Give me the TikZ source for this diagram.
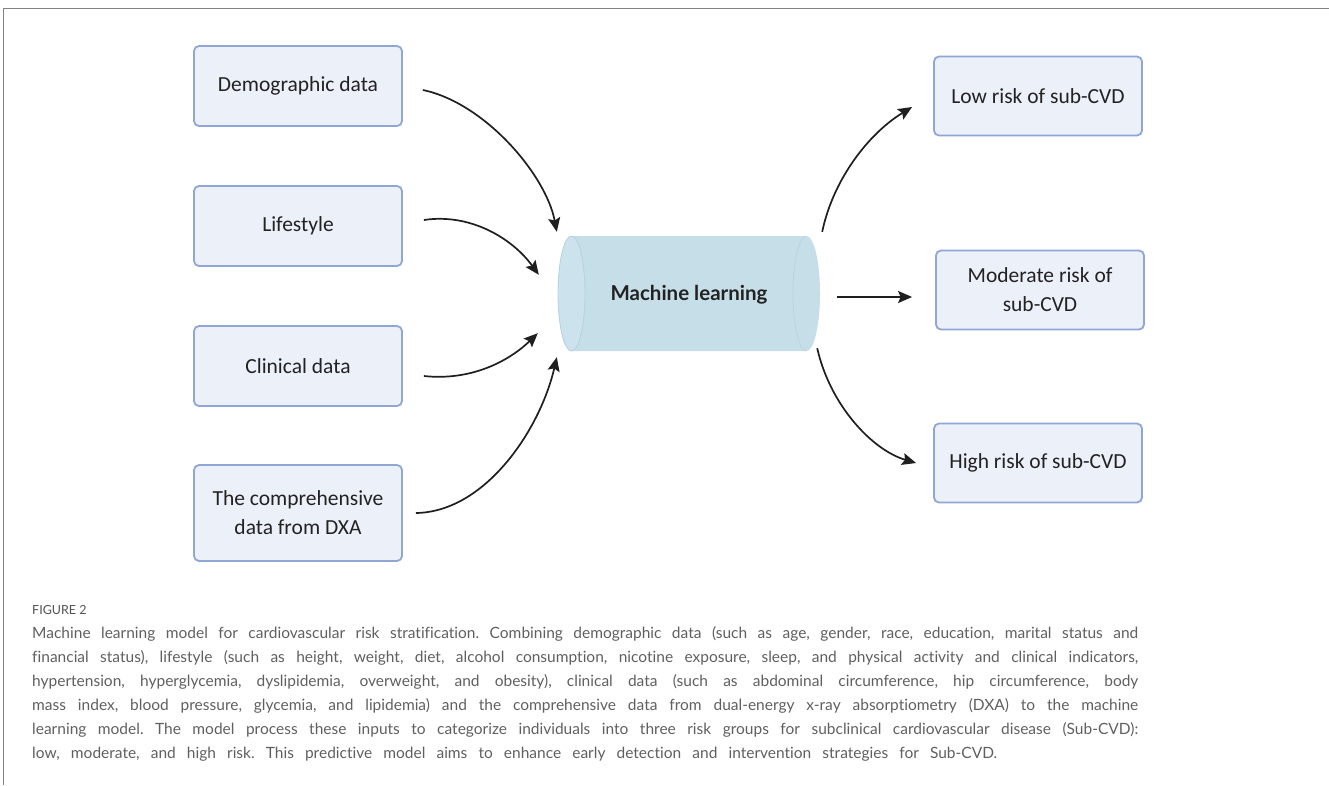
\documentclass[tikz,border=0pt]{standalone}
\usepackage{fontspec}
\setmainfont{Carlito}
\newfontfamily\latofont{Lato}
\newfontfamily\capfont[Ligatures=NoCommon]{Lato}
\usetikzlibrary{arrows.meta}
\definecolor{boxfill}{RGB}{236,240,249}
\definecolor{boxline}{RGB}{143,166,214}
\definecolor{cylfill}{RGB}{198,222,232}
\definecolor{cylcap}{RGB}{204,226,236}
\definecolor{cylline}{RGB}{182,209,223}
\definecolor{txt}{RGB}{34,34,34}
\definecolor{captxt}{RGB}{95,95,95}
\definecolor{framec}{RGB}{130,130,130}
\tikzset{
  inbox/.style={draw=boxline, fill=boxfill, line width=1.8pt, rounded corners=5pt,
    minimum width=208pt, minimum height=80pt, inner sep=0pt, align=center,
    text=txt, font=\fontsize{21.5}{29}\selectfont},
  conn/.style={line width=1.7pt, draw=black!88, -{Stealth[length=14pt,width=12pt,inset=2.5pt]}},
  capline/.style={anchor=base west, inner sep=0pt, text=captxt, font=\capfont\fontsize{15.5}{24}\selectfont\frenchspacing},
}
\begin{document}
\begin{tikzpicture}[x=1pt,y=-1pt]
\useasboundingbox (0,0) rectangle (1329,785);
% frame
\draw[framec, line width=1pt] (3,785) -- (3,8) -- (1329,8);
% input boxes
\node[inbox] (demo) at (298,86) {Demographic data};
\node[inbox] (life) at (298,226) {Lifestyle};
\node[inbox] (clin) at (298,366) {Clinical data};
\node[inbox, minimum height=96pt] (dxa) at (298,513) {The comprehensive\\data from DXA};
% output boxes
\node[inbox, minimum height=79pt] (low) at (1038,96) {Low risk of sub-CVD};
\node[inbox, minimum height=79pt] (mod) at (1040,290) {Moderate risk of\\sub-CVD};
\node[inbox, minimum height=79pt] (high) at (1038,463) {High risk of sub-CVD};
% cylinder
\fill[cylfill] (571.5,236) -- (806.5,236)
  arc[start angle=-90,end angle=90,x radius=13.5,y radius=57.5]
  -- (571.5,351)
  arc[start angle=90,end angle=270,x radius=13.5,y radius=57.5] -- cycle;
\draw[cylline, line width=0.6pt] (806.5,236) arc[start angle=-90,end angle=-270,x radius=13.5,y radius=57.5];
\filldraw[fill=cylcap, draw=cylline, line width=0.8pt] (571.5,293.5) ellipse[x radius=13.5,y radius=57.5];
\node[inner sep=0pt, minimum width=262pt, minimum height=115pt, text=txt,
  font=\latofont\bfseries\fontsize{20.5}{24}\selectfont] (ml) at (689,295) {Machine learning};
% connector end points
\coordinate (s1) at ([shift={(20,4)}]demo.east);
\coordinate (e1) at ([shift={(-1,-5.5)}]ml.north west);
\coordinate (s2) at ([shift={(21,-6)}]life.east);
\coordinate (e2) at ([shift={(-19,37.5)}]ml.north west);
\coordinate (s3) at ([shift={(21,10)}]clin.east);
\coordinate (e3) at ([shift={(-20,-19.5)}]ml.south west);
\coordinate (s4) at ([shift={(13,0)}]dxa.east);
\coordinate (e4) at ([shift={(-1,4.5)}]ml.south west);
\coordinate (s5) at ([shift={(2,-5.5)}]ml.north east);
\coordinate (e5) at ([shift={(-21,11)}]low.west);
\coordinate (s6) at ([shift={(17,2)}]ml.east);
\coordinate (e6) at ([shift={(-23,7)}]mod.west);
\coordinate (s7) at ([shift={(-3,-4.5)}]ml.south east);
\coordinate (e7) at ([shift={(-17,0)}]high.west);
% connectors
\draw[conn] (s1) .. controls (485,103) and (546,175) .. (e1);
\draw[conn] (s2) .. controls (470,213) and (512,238) .. (e2);
\draw[conn] (s3) .. controls (470,381) and (508,362) .. (e3);
\draw[conn] (s4) .. controls (485,512) and (540,430) .. (e4);
\draw[conn] (s5) .. controls (833,180) and (868,134) .. (e5);
\draw[conn] (s6) -- (e6);
\draw[conn] (s7) .. controls (830,405) and (872,450) .. (e7);
% caption
\node[capline, text=black!68, font=\latofont\fontsize{12.5}{14}\selectfont] (fig) at (32,614) {FIGURE 2};
\node[capline] (c1) at (32,638) {\makebox[1106pt][s]{Machine learning model for cardiovascular risk stratification. Combining demographic data (such as age, gender, race, education, marital status and}};
\node[capline] (c2) at (32,662) {\makebox[1106pt][s]{financial status), lifestyle (such as height, weight, diet, alcohol consumption, nicotine exposure, sleep, and physical activity and clinical indicators,}};
\node[capline] (c3) at (32,686) {\makebox[1106pt][s]{hypertension, hyperglycemia, dyslipidemia, overweight, and obesity), clinical data (such as abdominal circumference, hip circumference, body}};
\node[capline] (c4) at (32,710) {\makebox[1106pt][s]{mass index, blood pressure, glycemia, and lipidemia) and the comprehensive data from dual-energy x-ray absorptiometry (DXA) to the machine}};
\node[capline] (c5) at (32,734) {\makebox[1106pt][s]{learning model. The model process these inputs to categorize individuals into three risk groups for subclinical cardiovascular disease (Sub-CVD):}};
\node[capline] (c6) at (32,758) {\makebox[965pt][s]{low, moderate, and high risk. This predictive model aims to enhance early detection and intervention strategies for Sub-CVD.}};
\end{tikzpicture}
\end{document}
